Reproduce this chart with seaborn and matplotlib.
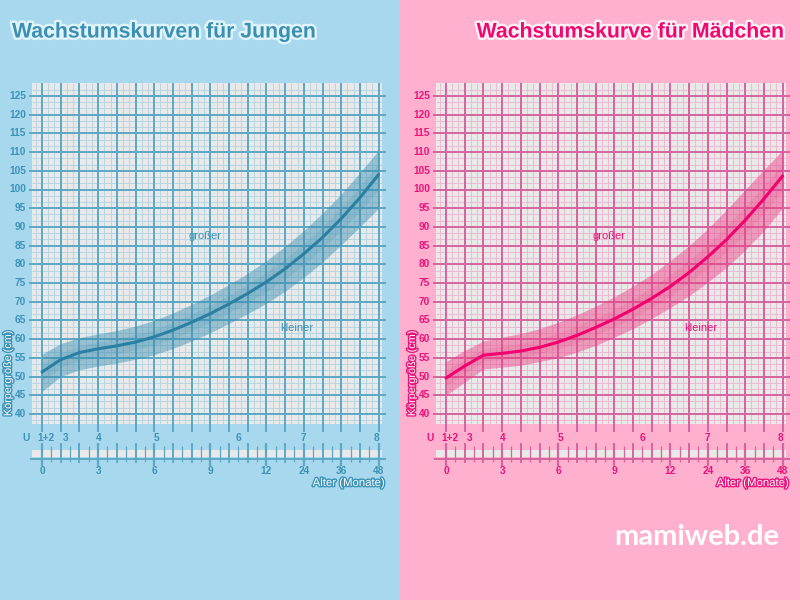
import numpy as np
import pandas as pd
import seaborn as sns
import matplotlib
matplotlib.use("Agg")
import matplotlib.pyplot as plt
from matplotlib.patches import Rectangle
import matplotlib.patheffects as pe

sns.set_theme(style="white")
plt.rcParams['font.family'] = ['Liberation Sans', 'DejaVu Sans']

# ---------------- data ----------------
age_index = list(range(19))
month_labels = ["0", "3", "6", "9", "12", "24", "36", "48"]
month_pos = [0, 3, 6, 9, 12, 14, 16, 18]
u_labels = ["U", "1+2", "3", "4", "5", "6", "7", "8"]
u_pos = [-0.86, 0.21, 1.28, 3.05, 6.1, 10.5, 13.96, 17.86]
y_ticks = list(range(40, 130, 5))

boys_median = [51.2, 54.5, 56.4, 57.4, 58.2, 59.2, 60.6, 62.4, 64.5, 66.8,
               69.4, 72.2, 75.3, 78.8, 82.8, 87.2, 92.2, 97.8, 104.0]
boys_upper = [56.0, 58.8, 60.4, 61.4, 62.3, 63.5, 65.0, 67.0, 69.3, 71.8,
              74.6, 77.6, 81.0, 84.8, 89.0, 93.7, 98.8, 104.5, 110.5]
boys_lower = [46.0, 50.0, 51.8, 52.8, 53.6, 54.6, 55.8, 57.5, 59.5, 61.7,
              64.2, 66.8, 69.6, 72.8, 76.5, 80.6, 85.2, 90.0, 95.0]

girls_median = [49.6, 52.8, 55.7, 56.2, 56.8, 57.8, 59.2, 61.0, 63.1, 65.4,
                68.0, 70.9, 74.1, 77.8, 82.0, 86.6, 91.8, 97.5, 103.6]
girls_upper = [54.0, 57.0, 59.5, 60.5, 61.5, 62.8, 64.5, 66.5, 68.8, 71.3,
               74.2, 77.3, 81.0, 85.0, 89.5, 94.6, 100.0, 105.3, 110.5]
girls_lower = [45.0, 48.5, 52.0, 52.5, 53.0, 54.0, 55.0, 56.5, 58.3, 60.5,
               62.8, 65.5, 68.4, 71.6, 75.2, 79.2, 83.8, 89.0, 95.0]

# ---------------- figure ----------------
W, H = 800, 600
fig = plt.figure(figsize=(8, 6), dpi=100)
fig.patches.append(Rectangle((0, 0), 0.5, 1, transform=fig.transFigure,
                             color='#a8d8ee', zorder=-10))
fig.patches.append(Rectangle((0.5, 0), 0.5, 1, transform=fig.transFigure,
                             color='#ffb0ce', zorder=-10))

PX = 18.7   # pixels per age index step
PY = 3.74   # pixels per cm


def panel(left_px, x0_px, median, upper, lower, c):
    ax = fig.add_axes([left_px / W, (H - 495) / H, 375 / W, 425 / H])
    ax.set_zorder(5)
    ax.patch.set_alpha(0)

    def xp(px):
        return (px - 42) / PX

    def yp(py):
        return 125 - (py - 96) / PY

    # grey chart area
    ax.add_patch(Rectangle((xp(32), yp(424)), xp(382) - xp(32), yp(83) - yp(424),
                           color='#e9e9e9', zorder=1, lw=0))
    # minor grid
    hmin = [40 + k * 5 / 3 for k in range(-1, 53)]
    ax.hlines(hmin, xp(32), xp(382), color=c['minor'], lw=0.7, zorder=2)
    vmin = [k / 3 for k in range(-1, 55)]
    ax.vlines(vmin, yp(424), yp(83), color=c['minor'], lw=0.7, zorder=2)
    # major grid
    ax.hlines(y_ticks, xp(29), xp(386), color=c['major'], lw=1.4, zorder=3)
    ax.vlines(age_index, yp(426), yp(83), color=c['major'], lw=1.4, zorder=3)

    # lower scale
    ax.add_patch(Rectangle((xp(32), yp(457)), xp(382) - xp(32), yp(450) - yp(457),
                           color='#e9e9e9', zorder=1, lw=0))
    ax.hlines([yp(459)], xp(30), xp(386), color=c['major'], lw=1.4, zorder=3)
    ax.vlines(age_index, yp(463), yp(443), color=c['major'], lw=1.4, zorder=3)
    ax.vlines(month_pos, yp(466), yp(443), color=c['major'], lw=1.6, zorder=3)
    ax.vlines([i + 0.5 for i in range(18)], yp(462), yp(446),
              color=c['major'], lw=0.9, zorder=3)
    ax.vlines(age_index, yp(432), yp(424), color=c['major'], lw=1.4, zorder=3)

    # band and median
    ax.fill_between(age_index, lower, upper, color=c['band'], alpha=0.45,
                    lw=0, zorder=4)
    inner_lo = [m - (m - l) * 0.45 for m, l in zip(median, lower)]
    inner_hi = [m + (u - m) * 0.45 for m, u in zip(median, upper)]
    ax.fill_between(age_index, inner_lo, inner_hi, color=c['band'], alpha=0.15,
                    lw=0, zorder=4)
    df = pd.DataFrame({'age': age_index, 'height': median})
    sns.lineplot(data=df, x='age', y='height', ax=ax, color=c['line'], lw=2.2,
                 zorder=5)
    ax.axis('off')
    ax.set_xlim((left_px - x0_px) / PX, (left_px + 375 - x0_px) / PX)
    ax.set_ylim(125 - (495 - 96) / PY, 125 + (96 - 70) / PY)

    # y tick labels
    for v in y_ticks:
        ax.text(xp(26), v, str(v), ha='right', va='center', fontsize=7.3,
                fontweight='bold', color=c['text'], zorder=6)
    # U labels
    for lab, p in zip(u_labels, u_pos):
        ax.text(p, yp(438), lab, ha='center', va='center', fontsize=7.3,
                fontweight='bold', color=c['text'], zorder=6)
    # month labels
    for lab, p in zip(month_labels, month_pos):
        ax.text(p, yp(471), lab, ha='center', va='center', fontsize=7.3,
                fontweight='bold', color=c['text'], zorder=6)
    outline = [pe.withStroke(linewidth=2, foreground=c['text'])]
    ax.text(xp(385), yp(483), 'Alter (Monate)', ha='right', va='center',
            fontsize=8.2, color='white', path_effects=outline, zorder=6)
    ax.text(xp(8), yp(373), 'Körpergröße (cm)', ha='center', va='center',
            rotation=90, fontsize=7.8, color='white', path_effects=outline, zorder=6)
    ax.text(xp(205), yp(236), 'großer', ha='center', va='center', fontsize=8,
            color=c['text'], zorder=6)
    ax.text(xp(297), yp(328), 'kleiner', ha='center', va='center', fontsize=8,
            color=c['text'], zorder=6)
    return ax


boys_c = dict(major='#5ca8c5', minor='#b6d6e2', band='#3a8db0',
              line='#2a80a3', text='#3d93b6')
girls_c = dict(major='#d5659d', minor='#ecbad2', band='#ec3d85',
               line='#f2006d', text='#e8147a')

panel(20, 42, boys_median, boys_upper, boys_lower, boys_c)
panel(424, 446, girls_median, girls_upper, girls_lower, girls_c)

fig.text(12 / W, 1 - 32 / H, 'Wachstumskurven für Jungen', ha='left', va='center',
         fontsize=15.3, fontweight='bold', color='#3a8fb2',
         path_effects=[pe.withStroke(linewidth=3.5, foreground='#dff3fb')])
fig.text(785 / W, 1 - 32 / H, 'Wachstumskurve für Mädchen', ha='right', va='center',
         fontsize=15.3, fontweight='bold', color='#f0086e',
         path_effects=[pe.withStroke(linewidth=3.5, foreground='#fff0f6')])
fig.text(697 / W, 1 - 537 / H, 'mamiweb.de', ha='center', va='center',
         fontsize=21, fontweight='bold', color='white', family=['Lato', 'DejaVu Sans'])

fig.savefig('out.png', dpi=100)
